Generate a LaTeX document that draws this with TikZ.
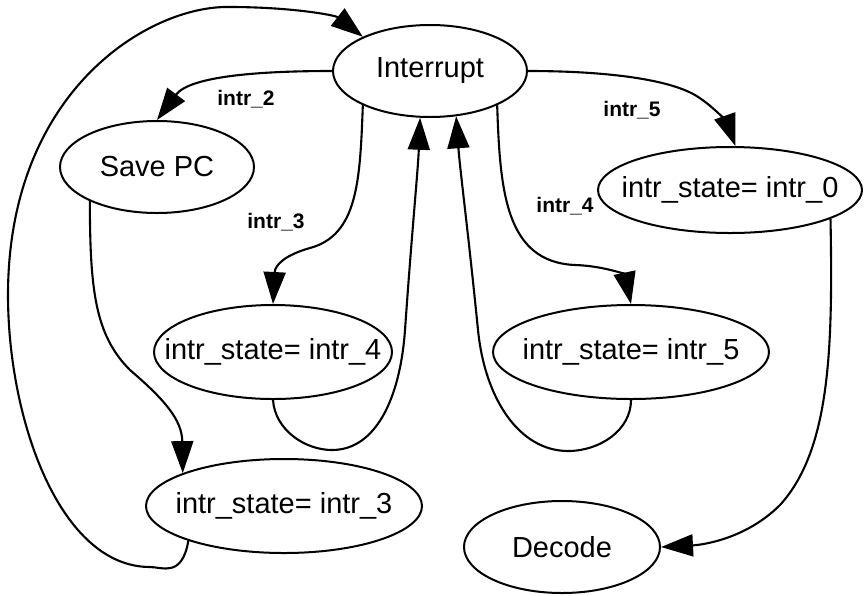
\documentclass[tikz,border=0pt]{standalone}
\usepackage{fontspec}
\setmainfont{Liberation Sans}
\usetikzlibrary{shapes.geometric,arrows.meta}

\tikzset{
  state/.style={ellipse, draw, line width=2pt, inner sep=0pt,
    font=\fontsize{29}{35}\selectfont},
  lbl/.style={font=\fontsize{21}{25}\selectfont\bfseries, inner sep=0pt},
  edge/.style={line width=2.1pt, -{Triangle[length=32pt,width=22pt]}, line join=miter}
}
\newcommand{\stext}[1]{\makebox[0pt]{#1}}

\begin{document}
\begin{tikzpicture}[x=1pt,y=1pt]
\useasboundingbox (0,0) rectangle (864,-595);

% states
\node[state, minimum width=194pt, minimum height=92pt] (inter) at (430,-71) {\stext{Interrupt}};
\node[state, minimum width=194pt, minimum height=92pt] (save) at (157,-167) {\stext{Save PC}};
\node[state, minimum width=264pt, minimum height=86pt] (s0) at (730,-190) {\stext{intr\_state= intr\_0}};
\node[state, minimum width=238pt, minimum height=94pt] (s4) at (273,-352) {\stext{intr\_state= intr\_4}};
\node[state, minimum width=276pt, minimum height=94pt] (s5) at (631,-352) {\stext{intr\_state= intr\_5}};
\node[state, minimum width=276pt, minimum height=94pt] (s3) at (284,-506) {\stext{intr\_state= intr\_3}};
\node[state, minimum width=196pt, minimum height=92pt] (dec) at (562,-547) {\stext{Decode}};

% edge labels
\node[lbl] (l2) at (246,-99) {intr\_2};
\node[lbl] (l3) at (276,-222) {intr\_3};
\node[lbl] (l5) at (632,-110) {intr\_5};
\node[lbl] (l4) at (565,-206) {intr\_4};

% transitions
\draw[edge] (s3.200) .. controls (182,-578) and (162,-567) .. (150,-567)
  .. controls (60,-567) and (8,-420) .. (8,-295)
  .. controls (8,-90) and (150,-5) .. (230,-7)
  .. controls (290,-7) and (335,-15) .. (inter.153);

\draw[edge] (inter.west) .. controls (260,-71) and (190,-76) .. (save.north);

\draw[edge] (inter.207) .. controls (360,-180) and (358,-235) .. (310,-248)
  .. controls (285,-255) and (275,-265) .. (s4.north);

\draw[edge] (s4.south) .. controls (275,-430) and (305,-450) .. (332,-450)
  .. controls (375,-450) and (400,-400) .. (405,-330)
  .. controls (412,-230) and (418,-170) .. (inter.258);

\draw[edge] (s5.south) .. controls (631,-430) and (600,-451) .. (568,-451)
  .. controls (520,-451) and (485,-400) .. (478,-330)
  .. controls (468,-230) and (460,-170) .. (inter.300);

\draw[edge] (inter.333) .. controls (500,-190) and (505,-262) .. (575,-265)
  .. controls (605,-266) and (625,-275) .. (s5.north);

\draw[edge] (inter.east) .. controls (600,-71) and (665,-78) .. (695,-95)
  .. controls (715,-107) and (728,-125) .. (s0.83);

\draw[edge] (save.207) .. controls (90,-290) and (95,-335) .. (130,-370)
  .. controls (165,-400) and (182,-420) .. (s3.162);

\draw[edge] (s0.344) .. controls (833,-350) and (830,-450) .. (780,-505)
  .. controls (745,-540) and (700,-545) .. (dec.east);
\end{tikzpicture}
\end{document}
